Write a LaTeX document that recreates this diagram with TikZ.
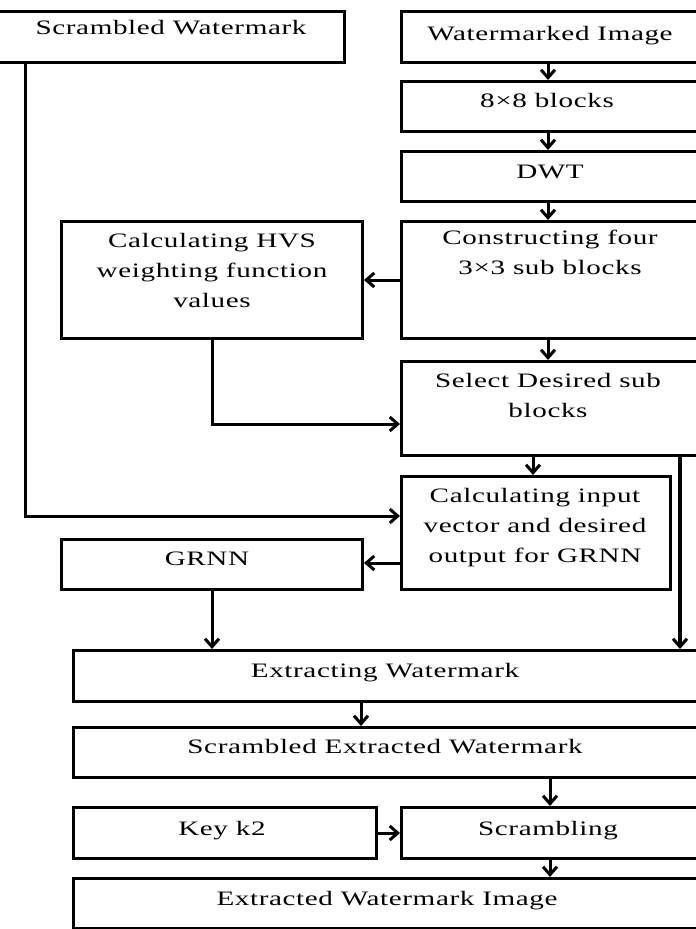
\documentclass[tikz,border=0pt]{standalone}
\usepackage{fontspec}
\setmainfont{Liberation Serif}[FakeStretch=1.42,LetterSpace=3]
\usetikzlibrary{arrows.meta,calc}
\begin{document}
\begin{tikzpicture}[x=1pt,y=-1pt,
  box/.style={draw, line width=3pt, rectangle, inner sep=0pt, anchor=north west},
  txt/.style={font=\fontsize{20.5}{30}\selectfont, align=center, inner sep=0pt, text=black},
  arr/.style={line width=3pt, -{Straight Barb[length=8pt,width=14pt,line width=3pt]}},
  bigline/.style={line width=4.5pt, -{Straight Barb[length=8pt,width=14pt,line width=3pt]}}]
\useasboundingbox (0,0) rectangle (696,929);
\fill[white] (0,0) rectangle (696,929);
\clip (0,0) rectangle (696,929);
% column / row helpers
\coordinate (c25) at (25,0);
\coordinate (c548) at (548,0);
\coordinate (c533) at (533,0);
\coordinate (c680) at (680,0);
\coordinate (c361) at (361,0);
\coordinate (c550) at (550,0);
\coordinate (r280) at (0,280);
\coordinate (r424) at (0,424);
\coordinate (r516) at (0,516);
\coordinate (r563) at (0,563);
% boxes
\node[box, minimum width=348pt, minimum height=51pt] (sw) at (-5,10) {};
\node[box, minimum width=305pt, minimum height=51pt] (wi) at (400,10) {};
\node[box, minimum width=305pt, minimum height=50pt] (b8) at (400,80) {};
\node[box, minimum width=305pt, minimum height=50pt] (dwt) at (400,150) {};
\node[box, minimum width=305pt, minimum height=117pt] (con) at (400,220) {};
\node[box, minimum width=301pt, minimum height=117pt] (hvs) at (60,220) {};
\node[box, minimum width=305pt, minimum height=94pt] (sel) at (400,360) {};
\node[box, minimum width=269pt, minimum height=113pt] (cin) at (400,475) {};
\node[box, minimum width=301pt, minimum height=50pt] (grnn) at (60,538) {};
\node[box, minimum width=633pt, minimum height=51pt] (ext) at (72,649) {};
\node[box, minimum width=633pt, minimum height=50pt] (sew) at (72,726) {};
\node[box, minimum width=303pt, minimum height=51pt] (key) at (72,806) {};
\node[box, minimum width=305pt, minimum height=51pt] (scr) at (400,806) {};
\node[box, minimum width=633pt, minimum height=50pt] (ewi) at (72,877) {};
% texts
\node[txt, anchor=base] (sw-t) at (171,34) {Scrambled Watermark};
\node[txt, anchor=base] (wi-t) at (550,40) {Watermarked Image};
\node[txt, anchor=base] (b8-t) at (547,107) {8×8 blocks};
\node[txt, anchor=base] (dwt-t) at (550,178) {DWT};
\node[txt, anchor=north] (con-t) at (550,230) {Constructing four\\3×3 sub blocks};
\node[txt, anchor=north] (hvs-t) at (212,233) {Calculating HVS\\weighting function\\values};
\node[txt, anchor=north] (sel-t) at (548,373) {Select Desired sub\\blocks};
\node[txt, anchor=north] (cin-t) at (535,488) {Calculating input\\vector and desired\\output for GRNN};
\node[txt, anchor=base] (grnn-t) at (207,565) {GRNN};
\node[txt, anchor=base] (ext-t) at (385,677) {Extracting Watermark};
\node[txt, anchor=base] (sew-t) at (385,753) {Scrambled Extracted Watermark};
\node[txt, anchor=base] (key-t) at (222,835) {Key k2};
\node[txt, anchor=base] (scr-t) at (548,835) {Scrambling};
\node[txt, anchor=base] (ewi-t) at (387,905) {Extracted Watermark Image};
% connectors
\draw[arr] (c548 |- wi.south) -- (c548 |- b8.north);
\draw[arr] (c548 |- b8.south) -- (c548 |- dwt.north);
\draw[arr] (c548 |- dwt.south) -- (c548 |- con.north);
\draw[arr] (con.west |- r280) -- (hvs.east |- r280);
\draw[arr] (c548 |- con.south) -- (c548 |- sel.north);
\draw[arr] (hvs.south) |- (sel.west |- r424);
\draw[arr] (c25 |- sw.south) |- (cin.west |- r516);
\draw[arr] (c533 |- sel.south) -- (c533 |- cin.north);
\draw[arr] (cin.west |- r563) -- (grnn.east |- r563);
\draw[arr] (grnn.south) -- (grnn.south |- ext.north);
\draw[bigline] (c680 |- sel.south) -- (c680 |- ext.north);
\draw[arr] (c361 |- ext.south) -- (c361 |- sew.north);
\draw[arr] (c550 |- sew.south) -- (c550 |- scr.north);
\draw[arr] (key.east) -- (scr.west);
\draw[arr] (c550 |- scr.south) -- (c550 |- ewi.north);
\end{tikzpicture}
\end{document}
